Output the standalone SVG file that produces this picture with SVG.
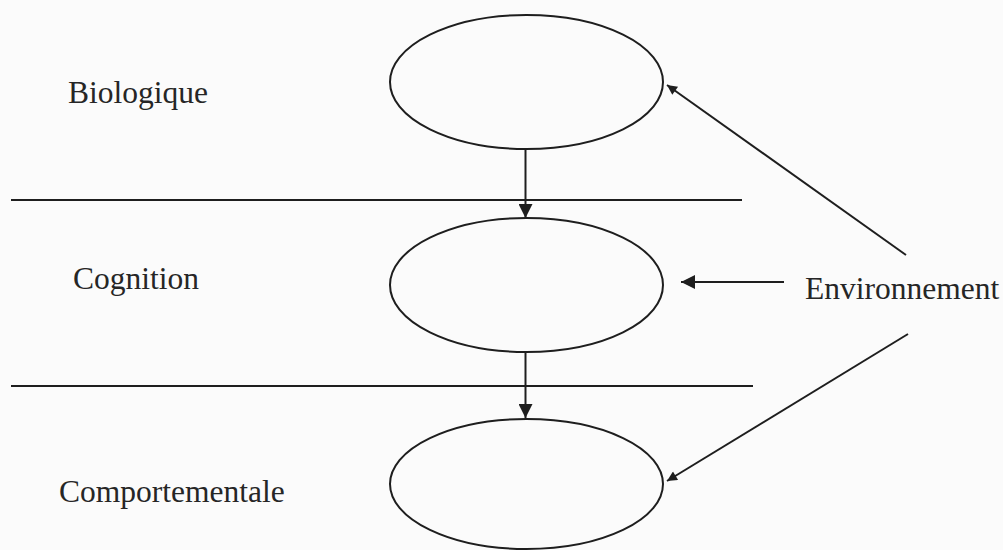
<svg xmlns="http://www.w3.org/2000/svg" width="1003" height="550" viewBox="0 0 1003 550">
<style>
.lbl{font-family:"Liberation Serif","Times New Roman",serif;font-size:31.5px;fill:#262626}
.ell{fill:none;stroke:#1e1e1e;stroke-width:2}
.sep{stroke:#1e1e1e;stroke-width:1.8}
.con{stroke:#1e1e1e;stroke-width:2;fill:none}
</style>
<defs>
<marker id="ahS" viewBox="0 0 10 10" refX="10" refY="5" markerWidth="12" markerHeight="10" markerUnits="userSpaceOnUse" orient="auto">
<path d="M0,0 L10,5 L0,10 z" fill="#1e1e1e"/>
</marker>
<marker id="ahD" viewBox="0 0 10 10" refX="10" refY="5" markerWidth="15" markerHeight="14" markerUnits="userSpaceOnUse" orient="auto">
<path d="M0,0 L10,5 L0,10 z" fill="#1e1e1e"/>
</marker>
<marker id="ahM" viewBox="0 0 10 10" refX="10" refY="5" markerWidth="20" markerHeight="14" markerUnits="userSpaceOnUse" orient="auto">
<path d="M0,0 L10,5 L0,10 z" fill="#1e1e1e"/>
</marker>
</defs>
<rect width="1003" height="550" fill="#fbfbfb"/>
<g id="separators">
<line class="sep" x1="11" y1="200" x2="742" y2="200"/>
<line class="sep" x1="11" y1="386" x2="753" y2="386"/>
</g>
<g id="node-biologique">
<ellipse class="ell" cx="526.5" cy="82" rx="136.5" ry="67"/>
<text class="lbl" x="68" y="103">Biologique</text>
</g>
<g id="node-cognition">
<ellipse class="ell" cx="526.5" cy="285" rx="136.5" ry="67"/>
<text class="lbl" x="73" y="289">Cognition</text>
</g>
<g id="node-comportementale">
<ellipse class="ell" cx="526.5" cy="484" rx="136.5" ry="65"/>
<text class="lbl" x="59" y="502">Comportementale</text>
</g>
<g id="node-environnement">
<text class="lbl" x="805" y="299">Environnement</text>
</g>
<g id="connectors">
<line class="con" x1="525.5" y1="149" x2="525.5" y2="218" marker-end="url(#ahD)"/>
<line class="con" x1="525.5" y1="352" x2="525.5" y2="418" marker-end="url(#ahD)"/>
<line class="con" x1="906" y1="255" x2="667" y2="85" marker-end="url(#ahS)"/>
<line class="con" x1="784" y1="282" x2="681" y2="282" marker-end="url(#ahM)"/>
<line class="con" x1="908" y1="334" x2="667" y2="481" marker-end="url(#ahS)"/>
</g>
</svg>
